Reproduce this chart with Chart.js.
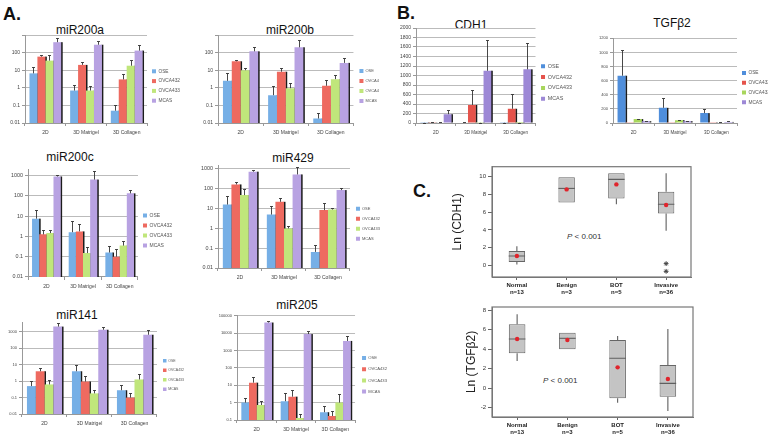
<!DOCTYPE html>
<html>
<head>
<meta charset="utf-8">
<script src="https://cdn.jsdelivr.net/npm/chart.js@4.4.1/dist/chart.umd.min.js"></script>
<style>
  html, body { margin: 0; padding: 0; background: #fff; }
  body { width: 768px; height: 436px; position: relative; overflow: hidden; font-family: "Liberation Sans", Arial, sans-serif; color: #111; }
  canvas { position: absolute; }
  .panel { position: absolute; font-size: 18px; font-weight: bold; line-height: 18px; }
  .title { position: absolute; font-size: 12px; transform: translate(-50%, -50%); white-space: nowrap; }
  .pval { position: absolute; font-size: 8px; color: #333; white-space: nowrap; }
</style>
</head>
<body>
<div class="panel" style="left:3px;top:5px">A.</div>
<div class="panel" style="left:397px;top:4px">B.</div>
<div class="panel" style="left:413px;top:182px">C.</div>

<div class="title" style="left:80px;top:30px">miR200a</div>
<div class="title" style="left:290px;top:30px">miR200b</div>
<div class="title" style="left:70px;top:157px">miR200c</div>
<div class="title" style="left:293px;top:158px">miR429</div>
<div class="title" style="left:77px;top:315px">miR141</div>
<div class="title" style="left:297px;top:305px">miR205</div>
<div class="title" style="left:471px;top:25px">CDH1</div>
<div class="title" style="left:672px;top:23px">TGFβ2</div>
<div class="pval" style="left:567px;top:232px"><i>P</i> &lt; 0.001</div>
<div class="pval" style="left:543px;top:376px"><i>P</i> &lt; 0.001</div>

<canvas id="c200a" width="190" height="107" style="left:0;top:30px"></canvas>
<canvas id="c200b" width="199" height="107" style="left:190px;top:30px"></canvas>
<canvas id="c200c" width="182" height="128" style="left:0;top:164px"></canvas>
<canvas id="c429" width="200" height="122" style="left:190px;top:160px"></canvas>
<canvas id="c141" width="194" height="111" style="left:0;top:317px"></canvas>
<canvas id="c205" width="192" height="124" style="left:205px;top:310px"></canvas>
<canvas id="cCdh1" width="187" height="114" style="left:395px;top:23px"></canvas>
<canvas id="cTgf" width="192" height="104" style="left:588px;top:33px"></canvas>
<canvas id="boxCdh1" width="246" height="135" style="left:450px;top:160px"></canvas>
<canvas id="boxTgf" width="233" height="135" style="left:464px;top:300px"></canvas>

<script>
const cellLines = ['OSE', 'OVCA432', 'OVCA433', 'MCAS'];
const cellLines200b = ['OSE', 'OVCA4', 'OVCA4', 'MCAS'];
const conditions = ['2D', '3D Matrigel', '3D Collagen'];
const barColors = ['#76afe6', '#ee6a60', '#c0e67b', '#b8a2e2'];
const barColorsB = ['#4f8edb', '#e5534b', '#a8d65c', '#9d88d6'];

// one row per cell line, columns follow conditions; *Err is the top of the error bar
const miR200a = [[6.6, 0.7, 0.05], [59, 20, 3], [35, 0.7, 18], [390, 280, 130]];
const miR200aErr = [[16, 1.4, 0.1], [74, 28, 6], [75, 1.2, 40], [690, 440, 280]];
const miR200b = [[2.5, 0.38, 0.018], [32, 8.2, 1.3], [10, 0.95, 3.1], [118, 200, 26]];
const miR200bErr = [[6.5, 1.3, 0.035], [38, 12.7, 2.8], [12.7, 1.9, 5.5], [220, 530, 47]];
const miR200c = [[7.4, 1.6, 0.16], [1.25, 1.75, 0.1], [1.45, 0.15, 0.35], [880, 620, 130]];
const miR200cErr = [[19, 5.6, 0.32], [2, 4.2, 0.25], [2.1, 0.3, 0.58], [1100, 1600, 195]];
const miR429 = [[16, 5, 0.065], [166, 22, 8.4], [48, 1.0, 9], [730, 530, 86]];
const miR429Err = [[45, 13, 0.14], [218, 33, 20], [100, 1.3, 11], [880, 1300, 113]];
const miR141 = [[0.5, 4, 0.28], [4, 0.95, 0.1], [0.63, 0.18, 1.27], [2100, 1350, 670]];
const miR141Err = [[1.0, 9, 0.55], [6.5, 2.2, 0.2], [1.1, 0.28, 2.8], [3400, 2000, 1350]];
const miR205 = [[1.0, 1.2, 0.28], [14, 2.2, 0.17], [0.73, 0.13, 1.0], [40000, 8700, 3500]];
const miR205Err = [[1.9, 3.4, 0.64], [28, 5.3, 0.33], [1.3, 0.22, 3], [50000, 13500, 6700]];

const cdh1 = [[3, 8, 4], [5, 380, 300], [10, 4, 2], [185, 1100, 1130]];
const cdh1Err = [[6, 15, 10], [20, 690, 610], [25, 8, 5], [270, 1750, 1680]];
const tgfb2 = [[670, 215, 140], [5, 3, 2], [55, 40, 8], [25, 25, 15]];
const tgfb2Err = [[1030, 355, 200], [5, 3, 2], [60, 45, 10], [30, 30, 28]];

const ticksTo1000 = [0.01, 0.1, 1, 10, 100, 1000];
const labels200a = ['0.01', '0.1', '1', '10', '100', ''];
const labelsTo1000 = ['0.01', '0.1', '1', '10', '100', '1000'];
const ticks205 = [0.1, 1, 10, 100, 1000, 10000, 100000];
const labels205 = ['0.1', '1', '10', '100', '1000', '10000', '100000'];
const cdh1Ticks = [0, 200, 400, 600, 800, 1000, 1200, 1400, 1600, 1800, 2000];
const tgfTicks = [0, 200, 400, 600, 800, 1000, 1200];

// panel C box plots
const groups = [['Normal', 'n=13'], ['Benign', 'n=3'], ['BOT', 'n=5'], ['Invasive', 'n=36']];
const cdh1Q1 = [0.37, 7.1, 7.55, 5.85];
const cdh1Q3 = [1.62, 9.93, 10.38, 8.3];
const cdh1Median = [1.05, 8.68, 9.7, 6.9];
const cdh1Mean = [1.05, 8.57, 9.13, 6.8];
const cdh1Low = [0.08, 7.1, 6.9, 3.9];
const cdh1High = [2.15, 9.93, 10.38, 10.38];
const cdh1Outliers = [[null, null, null, 0.19], [null, null, null, -0.68]];
const cdh1BoxTicks = [0, 2, 4, 6, 8, 10];
const tgfQ1 = [3.59, 4.0, -1.03, -0.86];
const tgfQ3 = [6.56, 5.7, 4.95, 2.39];
const tgfMedian = [5.06, 5.13, 3.08, 0.51];
const tgfMean = [5.06, 4.95, 2.15, 0.95];
const tgfLow = [2.8, 4.0, -1.47, -2.33];
const tgfHigh = [7.6, 5.7, 5.36, 6.08];
const tgfBoxTicks = [-2, 0, 2, 4, 6, 8];
const tgfBoxLabels = ['-2', '0', '2', '4', '6', '8'];

Chart.defaults.font.family = '"Liberation Sans", Arial, sans-serif';
Chart.defaults.color = '#444';
Chart.defaults.animation = false;

// dark edge on the right of each bar + one-sided error bars
const barExtras = {
  id: 'barExtras',
  beforeDatasetsDraw(chart) {
    const ctx = chart.ctx;
    ctx.save();
    ctx.fillStyle = '#1c1c1c';
    chart.data.datasets.forEach((ds, i) => {
      chart.getDatasetMeta(i).data.forEach(bar => {
        ctx.fillRect(bar.x + bar.width / 2 - 0.3, bar.y, 1.8, bar.base - bar.y);
      });
    });
    ctx.restore();
  },
  afterDatasetsDraw(chart) {
    const ctx = chart.ctx, yS = chart.scales.y;
    ctx.save();
    ctx.strokeStyle = '#333';
    ctx.lineWidth = 0.9;
    chart.data.datasets.forEach((ds, i) => {
      chart.getDatasetMeta(i).data.forEach((bar, j) => {
        const top = ds.err[j];
        if (!(top > ds.data[j])) return;
        const yt = Math.round(yS.getPixelForValue(top)) + 0.5;
        const x = Math.round(bar.x) + 0.5;
        ctx.beginPath();
        ctx.moveTo(x, bar.y);
        ctx.lineTo(x, yt);
        ctx.moveTo(x - 1.5, yt);
        ctx.lineTo(x + 1.5, yt);
        ctx.stroke();
      });
    });
    ctx.restore();
  }
};

function barChart(id, g, names, rows, errs, colors, yScale, ticks, labels) {
  const datasets = rows.map((r, i) => ({
    label: names[i], data: r, err: errs[i], backgroundColor: colors[i],
    categoryPercentage: g.cat || 0.78, barPercentage: 1.0
  }));
  return new Chart(document.getElementById(id), {
    type: 'bar',
    data: { labels: conditions, datasets: datasets },
    plugins: [barExtras],
    options: {
      responsive: false,
      layout: { padding: { top: g.top, right: 0, left: 0, bottom: 0 } },
      plugins: {
        tooltip: { enabled: false },
        legend: {
          position: 'right',
          labels: { boxWidth: g.box, boxHeight: g.box, padding: g.lp, font: { size: g.lf }, color: '#555' }
        }
      },
      scales: {
        x: {
          grid: { drawOnChartArea: false, offset: true, tickLength: 3, color: '#999' },
          border: { color: '#999' },
          ticks: { font: { size: g.xf }, padding: 4, maxRotation: 0, autoSkip: false, color: '#444' },
          afterFit: s => { s.height = g.xH; }
        },
        y: Object.assign({
          grid: { color: '#bbb', tickLength: 3, tickColor: '#999' },
          border: { color: '#999' },
          afterBuildTicks: a => { a.ticks = ticks.map(v => ({ value: v })); },
          ticks: { font: { size: g.yf }, padding: 2, autoSkip: false, color: '#444', callback: (v, i) => labels[i] },
          afterFit: s => { s.width = g.yW; }
        }, yScale)
      }
    }
  });
}

const geoSmall = { box: 4, lp: 5, lf: 4.8, xf: 5, yf: 5, xH: 14, yW: 25, top: 5 };
barChart('c200a', geoSmall, cellLines, miR200a, miR200aErr, barColors,
  { type: 'logarithmic', min: 0.01, max: 1000 }, ticksTo1000, labels200a);
barChart('c200b', Object.assign({}, geoSmall, { lf: 4, lp: 6, yW: 28 }), cellLines200b, miR200b, miR200bErr, barColors,
  { type: 'logarithmic', min: 0.01, max: 1000 }, ticksTo1000, labels200a);
barChart('c200c', { box: 4, lp: 5, lf: 5, xf: 5, yf: 5.4, xH: 15, yW: 28, top: 5 }, cellLines, miR200c, miR200cErr, barColors,
  { type: 'logarithmic', min: 0.01, max: 2000 }, ticksTo1000, labelsTo1000);
barChart('c429', { box: 4, lp: 6, lf: 4, xf: 5, yf: 5.4, xH: 14, yW: 28, top: 5.5 }, cellLines, miR429, miR429Err, barColors,
  { type: 'logarithmic', min: 0.01, max: 1500 }, ticksTo1000, labelsTo1000);
barChart('c141', { box: 3.5, lp: 6, lf: 3.5, xf: 5, yf: 4, xH: 14, yW: 22, top: 5 }, cellLines, miR141, miR141Err, barColors,
  { type: 'logarithmic', min: 0.01, max: 4000 }, ticksTo1000, labelsTo1000);
barChart('c205', { box: 4, lp: 7, lf: 4.2, xf: 5, yf: 4, xH: 14, yW: 32, top: 5.6 }, cellLines, miR205, miR205Err, barColors,
  { type: 'logarithmic', min: 0.1, max: 100000 }, ticks205, labels205);
barChart('cCdh1', { box: 4, lp: 5.5, lf: 5.4, xf: 4.5, yf: 5, xH: 14, yW: 21, top: 5 }, cellLines, cdh1, cdh1Err, barColorsB,
  { type: 'linear', min: 0, max: 2000 }, cdh1Ticks, cdh1Ticks.map(String));
barChart('cTgf', { box: 4, lp: 5, lf: 4.8, xf: 4.5, yf: 4, xH: 14, yW: 25, top: 5.3 }, cellLines, tgfb2, tgfb2Err, barColorsB,
  { type: 'linear', min: 0, max: 1200 }, tgfTicks, tgfTicks.map(String));

// medians, whiskers and the frame of the box plots
const boxParts = {
  id: 'boxParts',
  afterDatasetDraw(chart, args, o) {
    if (args.index !== 0) return;
    const ctx = chart.ctx, y = chart.scales.y;
    ctx.save();
    ctx.strokeStyle = '#5f5f5f';
    ctx.lineWidth = 1.1;
    args.meta.data.forEach((b, i) => {
      const hw = b.width / 2;
      const ym = y.getPixelForValue(o.median[i]);
      ctx.beginPath();
      ctx.moveTo(b.x - hw, ym);
      ctx.lineTo(b.x + hw, ym);
      ctx.moveTo(b.x, y.getPixelForValue(o.q1[i]));
      ctx.lineTo(b.x, y.getPixelForValue(o.low[i]));
      ctx.moveTo(b.x, y.getPixelForValue(o.q3[i]));
      ctx.lineTo(b.x, y.getPixelForValue(o.high[i]));
      ctx.stroke();
    });
    ctx.restore();
  },
  afterDraw(chart) {
    const a = chart.chartArea, ctx = chart.ctx;
    ctx.save();
    ctx.strokeStyle = '#777';
    ctx.lineWidth = 1.2;
    ctx.strokeRect(a.left, a.top, a.right - a.left, a.bottom - a.top);
    ctx.restore();
  }
};

function boxChart(id, g, q1, q3, median, mean, low, high, outliers, yMin, yMax, ticks, labels, yTitle) {
  const datasets = [
    { type: 'bar', data: q1.map((v, i) => [v, q3[i]]), backgroundColor: '#c4c4c4', borderColor: '#666',
      borderWidth: 1, borderSkipped: false, barPercentage: 0.33, categoryPercentage: 1, order: 3 },
    { type: 'line', data: mean, showLine: false, pointRadius: 2.2, pointBackgroundColor: '#e0242c',
      pointBorderWidth: 0, order: 0 }
  ];
  outliers.forEach(row => {
    datasets.push({ type: 'line', data: row, showLine: false, pointStyle: 'star',
      pointRadius: 2.4, borderColor: '#444', pointBorderWidth: 1, order: 1 });
  });
  return new Chart(document.getElementById(id), {
    type: 'bar',
    data: { labels: groups, datasets: datasets },
    plugins: [boxParts],
    options: {
      responsive: false,
      layout: { padding: { top: g.top, right: g.right, left: 0, bottom: 0 } },
      plugins: {
        legend: { display: false },
        tooltip: { enabled: false },
        boxParts: { median: median, q1: q1, q3: q3, low: low, high: high }
      },
      scales: {
        x: {
          offset: true,
          grid: { drawOnChartArea: false, offset: false, tickLength: 3, color: '#666' },
          border: { color: '#777' },
          ticks: { font: { size: 6, weight: 'bold' }, color: '#222', padding: 2, maxRotation: 0, autoSkip: false },
          afterFit: s => { s.height = g.xH; }
        },
        y: {
          min: yMin, max: yMax,
          grid: { drawOnChartArea: false, tickLength: 4, color: '#666' },
          border: { color: '#777' },
          title: { display: true, text: yTitle, font: { size: 12 }, color: '#222', padding: 0 },
          afterBuildTicks: a => { a.ticks = ticks.map(v => ({ value: v })); },
          ticks: { font: { size: 6 }, color: '#333', padding: 2, autoSkip: false, callback: (v, i) => labels[i] },
          afterFit: s => { s.width = g.yW; }
        }
      }
    }
  });
}

boxChart('boxCdh1', { top: 6.7, right: 4, xH: 18, yW: 42 }, cdh1Q1, cdh1Q3, cdh1Median, cdh1Mean, cdh1Low, cdh1High,
  cdh1Outliers, -1.32, 11.13, cdh1BoxTicks, cdh1BoxTicks.map(String), 'Ln (CDH1)');
boxChart('boxTgf', { top: 7, right: 4, xH: 18, yW: 28 }, tgfQ1, tgfQ3, tgfMedian, tgfMean, tgfLow, tgfHigh,
  [], -2.94, 8.34, tgfBoxTicks, tgfBoxLabels, 'Ln (TGFβ2)');
</script>
</body>
</html>
